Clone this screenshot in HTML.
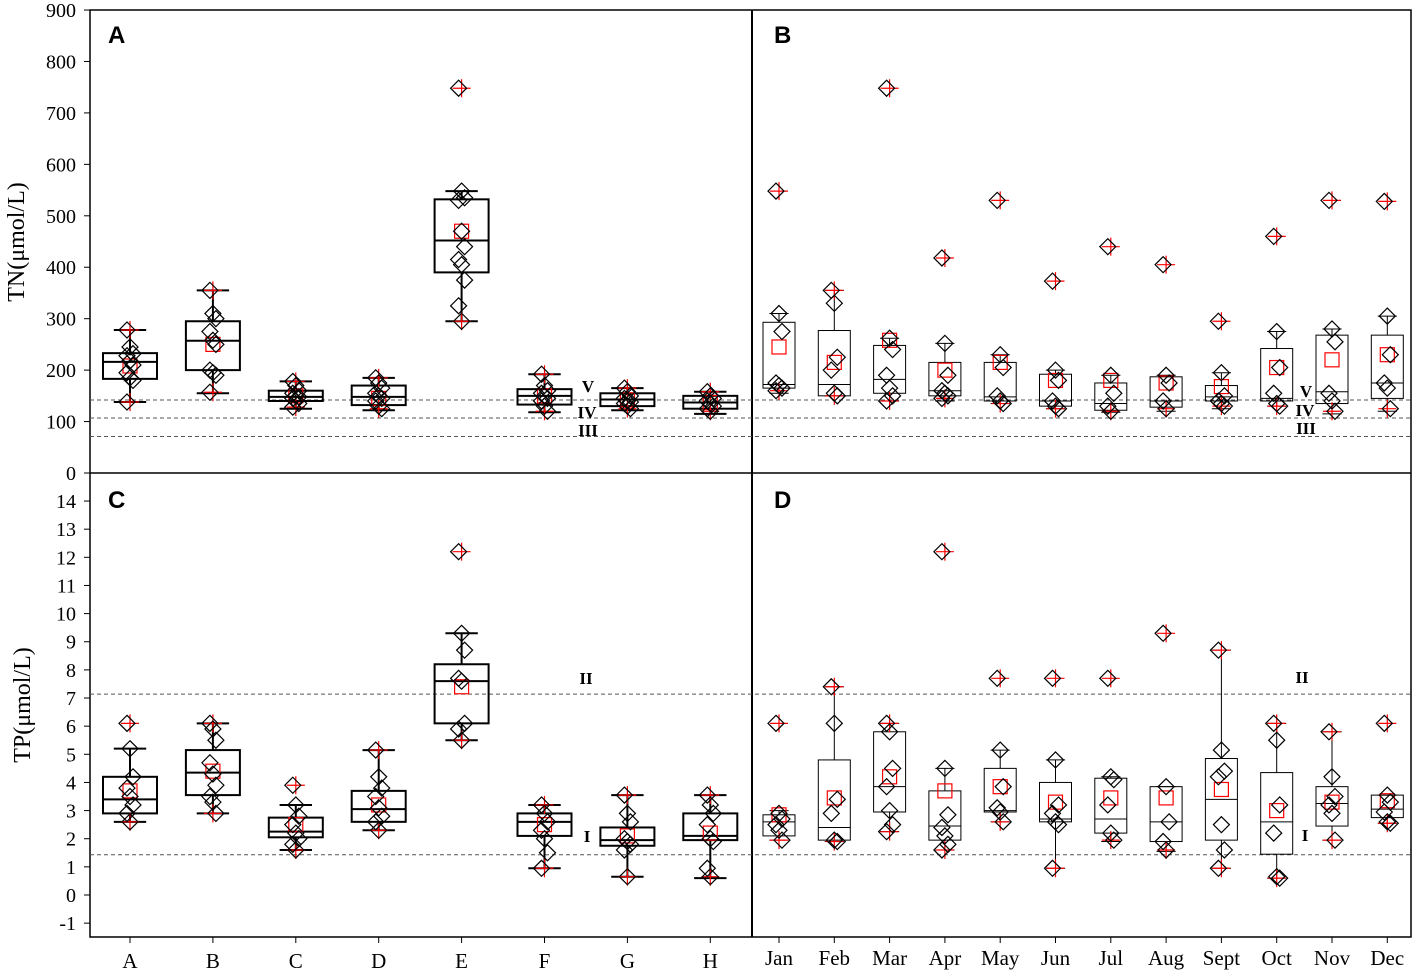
<!DOCTYPE html>
<html><head><meta charset="utf-8"><style>
body{margin:0;background:#fff}
svg text{font-family:"Liberation Serif",serif}
</style></head><body>
<svg id="c" width="1417" height="972" xmlns="http://www.w3.org/2000/svg"></svg>
<script>
const sites=["A","B","C","D","E","F","G","H"];
const months=["Jan","Feb","Mar","Apr","May","Jun","Jul","Aug","Sept","Oct","Nov","Dec"];
// [q1, median, q3, whiskerLow, whiskerHigh, mean]
const tnSiteStats=[[183,216,233,138,278,208],[200,257,295,155,355,250],[140,148,160,125,178,150],[132,148,170,122,185,145],[390,452,532,295,548,470],[133,150,163,118,192,150],[130,143,155,122,165,142],[125,137,150,115,158,137]];
const tnSitePts=[[278,245,232,228,218,210,195,185,180,138],[355,310,300,275,258,250,200,195,190,157],[178,170,160,155,150,148,145,140,135,128],[185,175,165,155,150,145,140,130,125],[748,548,535,530,470,440,415,405,375,325,295],[192,170,160,155,150,145,140,130,120],[165,158,150,145,140,138,135,130,125],[158,150,145,140,135,130,125,120]];
const tnMonthStats=[[165,172,293,155,310,245],[150,172,277,150,355,215],[155,182,248,140,262,258],[150,160,215,140,252,200],[140,148,215,135,230,215],[130,140,192,125,200,180],[122,135,175,118,190,180],[128,140,187,120,190,175],[140,148,170,125,195,168],[140,145,242,130,275,205],[135,158,268,115,280,220],[145,175,268,120,305,230]];
const tnMonthPts=[[548,310,275,175,170,165,160],[355,330,225,200,155,150],[748,262,240,190,165,150,140],[418,252,190,160,155,150,145],[530,230,205,150,140,135],[373,200,180,140,130,125],[440,190,155,130,120],[405,190,175,140,125],[295,195,150,140,135,130],[460,275,205,155,135,130],[530,280,255,155,140,120],[528,305,230,175,165,125]];
const tpSiteStats=[[2.9,3.4,4.2,2.6,5.2,3.7],[3.55,4.35,5.15,2.9,6.1,4.4],[2.05,2.25,2.75,1.6,3.2,2.5],[2.6,3.05,3.7,2.3,5.15,3.2],[6.1,7.6,8.2,5.5,9.3,7.4],[2.1,2.6,2.9,0.95,3.2,2.5],[1.75,1.95,2.4,0.65,3.55,2.1],[1.95,2.1,2.9,0.6,3.55,2.2]];
const tpSitePts=[[6.1,5.2,4.2,3.8,3.5,3.2,2.9,2.6],[6.1,5.9,5.5,4.7,4.3,3.9,3.5,3.3,2.9],[3.9,3.2,2.8,2.5,2.2,2.0,1.8,1.6],[5.15,4.2,3.8,3.5,3.1,2.8,2.6,2.3],[12.2,9.3,8.7,7.7,7.6,6.1,5.9,5.5],[3.2,2.9,2.6,2.3,2.0,1.5,0.95],[3.55,2.9,2.6,2.0,1.9,1.8,1.6,0.65],[3.55,3.2,2.9,2.5,2.0,1.9,0.95,0.65]];
const tpMonthStats=[[2.1,2.6,2.85,1.95,3.0,2.85],[1.95,2.4,4.8,1.9,7.4,3.45],[2.95,3.85,5.8,2.25,6.1,4.2],[1.95,2.45,3.7,1.6,4.5,3.7],[2.95,3.0,4.5,2.6,5.15,3.85],[2.6,2.7,4.0,0.95,4.8,3.3],[2.2,2.7,4.15,1.9,4.2,3.45],[1.9,2.6,3.85,1.55,3.85,3.45],[1.95,3.4,4.85,0.95,8.7,3.75],[1.45,2.6,4.35,0.6,6.1,3.0],[2.45,3.25,3.85,1.95,5.8,3.3],[2.75,3.05,3.55,2.55,3.55,3.35]];
const tpMonthPts=[[6.1,2.9,2.7,2.5,2.3,1.95],[7.4,6.1,3.4,2.9,1.95,1.9],[6.1,5.8,4.5,3.85,3.0,2.5,2.25],[12.2,4.5,2.85,2.4,2.1,1.8,1.6],[7.7,5.15,3.85,3.1,2.95,2.6],[7.7,4.8,3.2,2.9,2.6,2.5,0.95],[7.7,4.2,4.1,3.2,2.2,1.95],[9.3,3.85,2.6,1.9,1.6],[8.7,5.15,4.4,4.2,2.5,1.6,0.95],[6.1,5.5,3.2,2.2,0.65,0.6],[5.8,4.2,3.5,3.2,2.9,1.95],[6.1,3.55,3.3,2.95,2.6,2.55]];
const tnTicks=[0,100,200,300,400,500,600,700,800,900];
const tpTicks=[-1,0,1,2,3,4,5,6,7,8,9,10,11,12,13,14];
const tnLimits=[142,107,71];
const tpLimits=[7.14,1.43];

const S=document.getElementById('c');const NS="http://www.w3.org/2000/svg";
function el(t,a,p){const e=document.createElementNS(NS,t);for(const k in a)e.setAttribute(k,a[k]);(p||S).appendChild(e);return e;}
const yT=v=>473-v*0.5144, yB=v=>895-v*28.14;
const xS=i=>130+i*82.9, xM=i=>779+i*55.3;

// frame
let g=el('g',{});
el('rect',{x:90,y:10,width:1321,height:927,fill:'none',stroke:'#000','stroke-width':1.5},g);
el('line',{x1:90,y1:473,x2:1411,y2:473,stroke:'#000','stroke-width':1.5},g);
el('line',{x1:752,y1:10,x2:752,y2:937,stroke:'#000','stroke-width':2},g);

// ticks
tnTicks.forEach(v=>{const y=yT(v);
 el('line',{x1:84,y1:y,x2:90,y2:y,stroke:'#000'});
 const t=el('text',{x:76,y:y+7,'text-anchor':'end','font-size':20});t.textContent=v;
 });
tpTicks.forEach(v=>{const y=yB(v);
 el('line',{x1:84,y1:y,x2:90,y2:y,stroke:'#000'});
 const t=el('text',{x:76,y:y+7,'text-anchor':'end','font-size':20});t.textContent=v;
 });
let t=el('text',{x:0,y:0,'font-size':24,'text-anchor':'middle',transform:'translate(24,242) rotate(-90)'});t.textContent='TN(μmol/L)';

t=el('text',{x:0,y:0,'font-size':24,'text-anchor':'middle',transform:'translate(30,705) rotate(-90)'});t.textContent='TP(μmol/L)';


sites.forEach((s,i)=>{const x=xS(i);el('line',{x1:x,y1:937,x2:x,y2:943,stroke:'#000'});
 const l=el('text',{x:x,y:968,'text-anchor':'middle','font-size':21});l.textContent=s;
 });
months.forEach((m,i)=>{const x=xM(i);el('line',{x1:x,y1:937,x2:x,y2:943,stroke:'#000'});
 const l=el('text',{x:x,y:965,'text-anchor':'middle','font-size':21});l.textContent=m;
 });

[["A",108,43],["B",774,43],["C",108,508],["D",774,508]].forEach(p=>{
 const l=el('text',{x:p[1],y:p[2],'font-size':24,'font-weight':'bold',style:'font-family:"Liberation Sans",sans-serif'});l.textContent=p[0];
 });

// limit lines
tnLimits.forEach(v=>{const y=yT(v);el('line',{x1:90,y1:y,x2:1411,y2:y,stroke:'#555','stroke-dasharray':'4,3','stroke-width':1});});
tpLimits.forEach(v=>{const y=yB(v);el('line',{x1:90,y1:y,x2:1411,y2:y,stroke:'#555','stroke-dasharray':'4,3','stroke-width':1});});
function lab(txt,x,y){const l=el('text',{x:x,y:y,'text-anchor':'middle','font-size':17,'font-weight':'bold'});l.textContent=txt;
 }
lab('V',588,392);lab('IV',587,418);lab('III',588,436);lab('V',1306,397);lab('IV',1305,416);lab('III',1306,434);
lab('II',586,684);lab('I',587,842);lab('II',1302,683);lab('I',1305,841);

function box(x,st,pts,ys,w,sw,name){
 const g=el('g',{});
 const [q1,md,q3,lo,hi,mn]=st;
 el('line',{x1:x,y1:ys(hi),x2:x,y2:ys(q3),stroke:'#000','stroke-width':sw},g);
 el('line',{x1:x,y1:ys(q1),x2:x,y2:ys(lo),stroke:'#000','stroke-width':sw},g);
 el('line',{x1:x-w*0.3,y1:ys(hi),x2:x+w*0.3,y2:ys(hi),stroke:'#000','stroke-width':sw},g);
 el('line',{x1:x-w*0.3,y1:ys(lo),x2:x+w*0.3,y2:ys(lo),stroke:'#000','stroke-width':sw},g);
 el('rect',{x:x-w/2,y:ys(q3),width:w,height:ys(q1)-ys(q3),fill:'none',stroke:'#000','stroke-width':sw},g);
 el('line',{x1:x-w/2,y1:ys(md),x2:x+w/2,y2:ys(md),stroke:'#000','stroke-width':sw},g);
 el('rect',{x:x-7,y:ys(mn)-7,width:14,height:14,fill:'none',stroke:'red','stroke-width':1.2},g);
 const mx=Math.max(...pts),mi=Math.min(...pts);
 [mx,mi].forEach(v=>{const y=ys(v);
  el('line',{x1:x-9,y1:y,x2:x+9,y2:y,stroke:'red','stroke-width':1.2},g);
  el('line',{x1:x,y1:y-9,x2:x,y2:y+9,stroke:'red','stroke-width':1.2},g);});
 pts.forEach((v,k)=>{const y=ys(v),dx=(k%3-1)*3,px=x+dx;
  const d=el('path',{d:`M${px} ${y-8}L${px+8} ${y}L${px} ${y+8}L${px-8} ${y}Z`,fill:'none',stroke:'#000','stroke-width':1.2},g);
  });
}
tnSiteStats.forEach((s,i)=>box(xS(i),s,tnSitePts[i],yT,54,2,'tn-box-'+sites[i]));
tpSiteStats.forEach((s,i)=>box(xS(i),s,tpSitePts[i],yB,54,2,'tp-box-'+sites[i]));
tnMonthStats.forEach((s,i)=>box(xM(i),s,tnMonthPts[i],yT,32,1,'tn-box-'+months[i]));
tpMonthStats.forEach((s,i)=>box(xM(i),s,tpMonthPts[i],yB,32,1,'tp-box-'+months[i]));
</script>
</body></html>
